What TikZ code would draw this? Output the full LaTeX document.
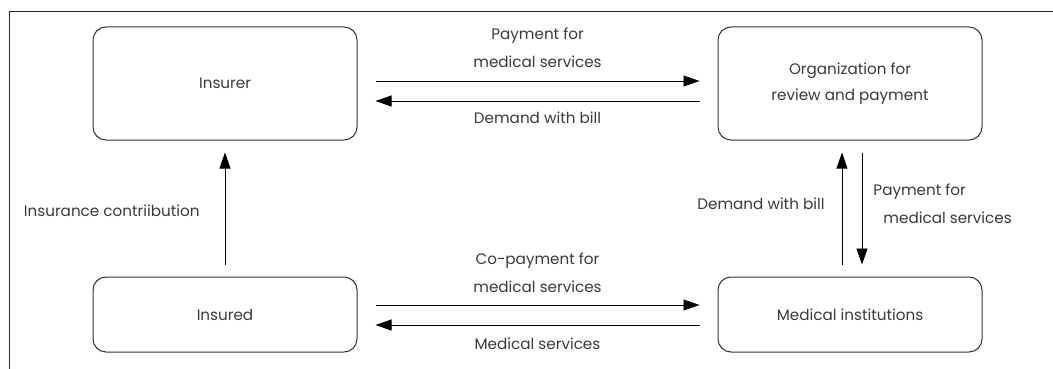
\documentclass[tikz,border=0pt]{standalone}
\usepackage{fontspec}
\setmainfont{Poppins}
\usetikzlibrary{arrows.meta}
\definecolor{txt}{HTML}{3A3A3A}
\definecolor{boxline}{HTML}{333333}
\definecolor{framec}{HTML}{2A2A2A}
\newcommand{\lblfont}{\fontsize{15.2}{28}\selectfont}
\begin{document}
\begin{tikzpicture}[x=1pt,y=-1pt,
  box/.style={draw=boxline, line width=1pt, rounded corners=13pt,
    minimum width=264pt, text=txt, font=\lblfont, align=center, inner sep=0pt},
  flow/.style={draw=black, line width=0.9pt,
    -{Triangle[length=16pt,width=11pt]}, shorten <=18pt, shorten >=18pt},
  vflow/.style={flow, shorten <=12pt, shorten >=12pt},
  lbl/.style={text=txt, font=\lblfont, align=center, inner sep=0pt}]
\useasboundingbox (0,0) rectangle (1053,369);
% open frame: top and left edges only
\draw[line width=1pt, framec] (1053,12) -- (9,12) -- (9,369);

% parties
\node[box, minimum height=113pt] (insurer) at (225,83.5) {Insurer};
\node[box, minimum height=113pt, font=\fontsize{15.2}{26}\selectfont] (org) at (850,83.5) {Organization for\\review and payment};
\node[box, minimum height=75pt] (insured) at (225,314.5) {Insured};
\node[box, minimum height=75pt] (med) at (850,314.5) {Medical institutions};

% insurer <-> review organization
\draw[flow] ([yshift=2.5pt]insurer.east) -- node[lbl, above=13pt] {Payment for\\medical services} ([yshift=2.5pt]org.west);
\draw[flow] ([yshift=-17.5pt]org.west) -- node[lbl, below=10pt] {Demand with bill} ([yshift=-17.5pt]insurer.east);

% insured <-> medical institutions
\draw[flow] ([yshift=9.5pt]insured.east) -- node[lbl, above=12pt] {Co-payment for\\medical services} ([yshift=9.5pt]med.west);
\draw[flow] ([yshift=-10.5pt]med.west) -- node[lbl, below=12pt] {Medical services} ([yshift=-10.5pt]insured.east);

% insured -> insurer
\draw[vflow] (insured.north) -- node[lbl, left=25pt, yshift=-2pt] {Insurance contriibution} (insurer.south);

% medical institutions <-> review organization
\draw[vflow] ([xshift=-8pt]med.north) -- node[lbl, left=17pt, yshift=5pt] {Demand with bill} ([xshift=-8pt]org.south);
\draw[vflow] ([xshift=12pt]org.south) -- node[lbl, right=11pt, yshift=4.5pt, align=left] {Payment for\\\hspace*{10pt}medical services} ([xshift=12pt]med.north);
\end{tikzpicture}
\end{document}
